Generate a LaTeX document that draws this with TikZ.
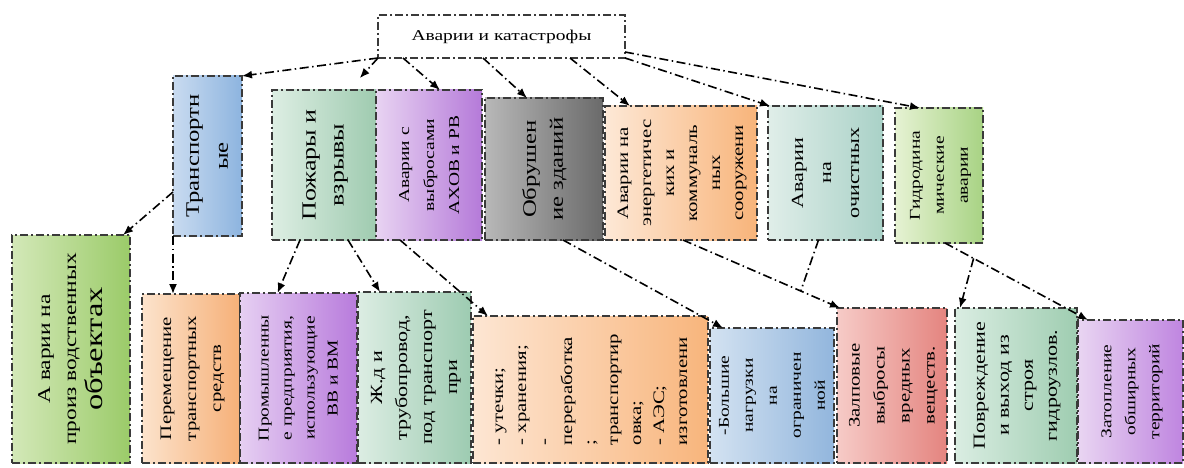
\documentclass[tikz,border=0pt]{standalone}
\usepackage{fontspec}
\setmainfont{Liberation Serif}
\usepackage{xcolor}
\definecolor{frameGray}{HTML}{3A3A3A}
\definecolor{transLeft}{HTML}{C9DBF0}
\definecolor{transRight}{HTML}{8DB4DF}
\definecolor{pozhLeft}{HTML}{DDEEE3}
\definecolor{pozhRight}{HTML}{9FCBB0}
\definecolor{ahovLeft}{HTML}{E8D3F2}
\definecolor{ahovRight}{HTML}{B57AD9}
\definecolor{obrLeft}{HTML}{B8B8B8}
\definecolor{obrRight}{HTML}{6A6A6A}
\definecolor{enLeft}{HTML}{FDE8D6}
\definecolor{enRight}{HTML}{F8B47A}
\definecolor{ochLeft}{HTML}{E0EEE9}
\definecolor{ochRight}{HTML}{A9D1C7}
\definecolor{gidLeft}{HTML}{E6F2D3}
\definecolor{gidRight}{HTML}{A8D384}
\definecolor{proizLeft}{HTML}{D3E8B8}
\definecolor{proizRight}{HTML}{9BCB69}
\definecolor{peremLeft}{HTML}{FCE3CC}
\definecolor{peremRight}{HTML}{F6B078}
\definecolor{promLeft}{HTML}{E6CFF2}
\definecolor{promRight}{HTML}{B87BDC}
\definecolor{zhdLeft}{HTML}{DCEDE3}
\definecolor{zhdRight}{HTML}{9DCBB1}
\definecolor{utechLeft}{HTML}{FDE6D3}
\definecolor{utechRight}{HTML}{F8B57C}
\definecolor{bolLeft}{HTML}{D3E2F1}
\definecolor{bolRight}{HTML}{92B6DD}
\definecolor{zalpLeft}{HTML}{F6CBC7}
\definecolor{zalpRight}{HTML}{E4847F}
\definecolor{povrLeft}{HTML}{DAEDE2}
\definecolor{povrRight}{HTML}{9FCDB1}
\definecolor{zatLeft}{HTML}{E9D5F2}
\definecolor{zatRight}{HTML}{BF85E0}
\usetikzlibrary{arrows.meta,positioning,calc}
\newcommand{\rotlines}[2][c]{\rotatebox{90}{\scalebox{1.3}[1]{\begin{tabular}{@{}#1@{}}#2\end{tabular}}}}
\tikzset{
    frame/.style={
        draw=frameGray,
        line width=1.8pt,
        dash pattern=on 8pt off 3pt on 2pt off 3pt,
        rectangle,
        inner sep=0pt,
        outer sep=0pt,
        align=center
    },
    topbox/.style={
        frame,
        line width=1.4pt,
        fill=white,
        minimum width=247pt,
        minimum height=43pt,
        font=\fontsize{15}{18}\selectfont
    },
    grad/.style 2 args={
        left color=#1,
        right color=#2
    },
    boxsize/.style 2 args={
        minimum width=#1,
        minimum height=#2
    },
    txt/.style 2 args={
        font=\fontsize{#1}{#2}\selectfont
    },
    link/.style={
        draw=black,
        line width=1.6pt,
        dash pattern=on 9pt off 3.5pt on 1.5pt off 3.5pt,
        -{Latex[length=10pt,width=8pt]}
    },
    joint/.style={
        link,
        -
    }
}
\begin{document}
\begin{tikzpicture}[x=1pt,y=-1pt]
    \useasboundingbox (0,0) rectangle (1184,468);
    \node[topbox] (top) at (501.5,36.5) {\scalebox{1.3}[1]{Аварии и катастрофы}};

    \node[frame, grad={transLeft}{transRight}, boxsize={69pt}{160pt}, txt={19}{29}, anchor=south west]
        (trans) at (173,236) {\rotlines{Транспортн\\ые}};
    \node[frame, grad={pozhLeft}{pozhRight}, boxsize={104pt}{150pt}, txt={20}{28}, anchor=south west]
        (pozh) at (272,240) {\rotlines{Пожары и\\взрывы}};
    \node[frame, grad={ahovLeft}{ahovRight}, boxsize={106pt}{150pt}, txt={15}{25}, right=0pt of pozh.south east, anchor=south west]
        (ahov) {\rotlines{Аварии с\\выбросами\\АХОВ и РВ}};
    \node[frame, grad={obrLeft}{obrRight}, boxsize={118pt}{142pt}, txt={19}{27}, right=3pt of ahov.south east, anchor=south west]
        (obr) {\rotlines{Обрушен\\ие зданий}};
    \node[frame, grad={enLeft}{enRight}, boxsize={152pt}{134pt}, txt={16}{23}, right=2pt of obr.south east, anchor=south west]
        (en) {\rotlines{Аварии на\\энергетичес\\ких и\\коммуналь\\ных\\сооружени}};
    \node[frame, grad={ochLeft}{ochRight}, boxsize={115pt}{134pt}, txt={17}{28}, right=11pt of en.south east, anchor=south west]
        (och) {\rotlines{Аварии\\на\\очистных}};
    \node[frame, grad={gidLeft}{gidRight}, boxsize={88pt}{135pt}, txt={15}{24}, right=12pt of och.south east, anchor=south west, yshift=-3pt]
        (gid) {\rotlines{Гидродина\\мические\\аварии}};

    \node[frame, grad={proizLeft}{proizRight}, boxsize={118pt}{228pt}, txt={18}{26}, anchor=south west]
        (proiz) at (12,463) {\rotlines{А варии на\\произ водственных\\{\fontsize{25}{28}\selectfont объектах}}};
    \node[frame, grad={peremLeft}{peremRight}, boxsize={98pt}{169pt}, txt={16}{25}, right=12pt of proiz.south east, anchor=south west]
        (perem) {\rotlines{Перемещение\\транспортных\\средств}};
    \node[frame, grad={promLeft}{promRight}, boxsize={117pt}{170pt}, txt={15}{23}, right=0pt of perem.south east, anchor=south west]
        (prom) {\rotlines{Промышленны\\е предприятия,\\использующие\\ВВ и ВМ}};
    \node[frame, grad={zhdLeft}{zhdRight}, boxsize={113pt}{171pt}, txt={17}{25}, right=1pt of prom.south east, anchor=south west]
        (zhd) {\rotlines{Ж.д и\\трубопровод,\\под транспорт\\при}};
    \node[frame, grad={utechLeft}{utechRight}, boxsize={235pt}{147pt}, txt={16}{23}, right=2pt of zhd.south east, anchor=south west]
        (utech) {\rotlines[l]{- утечки;\\- хранения;\\-\\переработка\\;\\транспортир\\овка;\\- АЭС;\\изготовлени}};
    \node[frame, grad={bolLeft}{bolRight}, boxsize={124pt}{135pt}, txt={15}{24}, right=2pt of utech.south east, anchor=south west]
        (bol) {\rotlines{-Большие\\нагрузки\\на\\ограничен\\ной}};
    \node[frame, grad={zalpLeft}{zalpRight}, boxsize={110pt}{155pt}, txt={16}{25}, right=3pt of bol.south east, anchor=south west]
        (zalp) {\rotlines{Залповые\\выбросы\\вредных\\веществ.}};
    \node[frame, grad={povrLeft}{povrRight}, boxsize={122pt}{155pt}, txt={17}{24}, right=8pt of zalp.south east, anchor=south west]
        (povr) {\rotlines{Повреждение\\и выход из\\строя\\гидроузлов.}};
    \node[frame, grad={zatLeft}{zatRight}, boxsize={105pt}{143pt}, txt={15}{24}, right=1pt of povr.south east, anchor=south west]
        (zat) {\rotlines{Затопление\\обширных\\территорий}};

    \draw[link] (top.south west) -- (trans.north east);
    \draw[link, shorten >=16pt] (top.south west) -- ($(pozh.north)+(25,0)$);
    \draw[link] ($(top.south west)+(25,0)$) -- ($(ahov.north)+(11,0)$);
    \draw[link] ($(top.south west)+(105,0)$) -- ($(obr.north)+(-17,0)$);
    \draw[link] ($(top.south west)+(192,0)$) -- ($(en.north west)+(25,0)$);
    \draw[link] (top.south east) -- ($(och.north west)+(2,0)$);
    \draw[link] ($(top.south east)+(0,-6)$) -- ($(gid.north)+(-19,0)$);

    \draw[link] ($(trans.west)+(0,36)$) -- ($(proiz.north east)+(-7,0)$);
    \draw[link] (trans.south west) -- (trans.south west |- perem.north);
    \draw[link] ($(pozh.south)+(-24,0)$) -- ($(prom.north)+(-21,0)$);
    \draw[link] ($(pozh.south east)+(-28,0)$) -- ($(zhd.north west)+(22,0)$);
    \draw[link] ($(ahov.south west)+(24,0)$) -- ($(utech.north west)+(15,0)$);
    \draw[link] ($(obr.south)+(19,0)$) -- ($(bol.north west)+(13,0)$);
    \coordinate (enout) at ($(en.south)+(2,0)$);
    \coordinate (zalpin) at ($(zalp.north west)+(3,0)$);
    \draw[link] (enout) -- (zalpin);
    \draw[joint] ($(och.south)+(-7,0)$) -- ($(enout)!0.75!(zalpin)$);
    \coordinate (gidout) at ($(gid.south)+(6,0)$);
    \coordinate (zatin) at ($(zat.north west)+(10,0)$);
    \draw[link] (gidout) -- (zatin);
    \draw[link] ($(gidout)!0.2!(zatin)$) -- ($(povr.north west)+(5,0)$);
\end{tikzpicture}
\end{document}
